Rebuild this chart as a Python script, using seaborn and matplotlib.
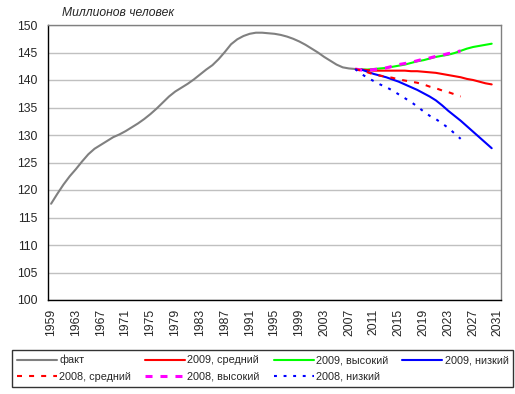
import matplotlib
matplotlib.use("Agg")
import matplotlib.pyplot as plt
import seaborn as sns

# факт
fact_years = list(range(1959, 2010))
fact = [117.5, 119.3, 121.0, 122.5, 123.8, 125.2, 126.5, 127.5, 128.2, 128.9,
        129.6, 130.1, 130.7, 131.4, 132.1, 132.9, 133.8, 134.8, 135.9, 137.0,
        137.9, 138.6, 139.3, 140.1, 141.0, 141.9, 142.7, 143.8, 145.1, 146.5,
        147.4, 148.0, 148.4, 148.6, 148.6, 148.5, 148.4, 148.2, 147.9, 147.5,
        147.0, 146.4, 145.7, 145.0, 144.2, 143.5, 142.8, 142.3, 142.1, 142.0,
        141.9]

# прогноз 2009
years_2009 = list(range(2009, 2031))
mid_2009 = [141.9, 141.8, 141.7, 141.7, 141.7, 141.7, 141.7, 141.7, 141.6, 141.6,
            141.5, 141.4, 141.3, 141.1, 140.9, 140.7, 140.5, 140.2, 140.0, 139.7,
            139.4, 139.2]
high_2009 = [141.9, 141.9, 142.0, 142.1, 142.2, 142.4, 142.6, 142.8, 143.1, 143.4,
             143.6, 143.9, 144.2, 144.4, 144.6, 144.9, 145.3, 145.7, 146.0, 146.2,
             146.4, 146.6]
low_2009 = [141.9, 141.5, 141.1, 140.8, 140.5, 140.1, 139.7, 139.2, 138.7, 138.2,
            137.6, 137.0, 136.3, 135.4, 134.4, 133.5, 132.6, 131.6, 130.6, 129.6,
            128.6, 127.6]

# прогноз 2008
years_2008 = list(range(2008, 2026))
mid_2008 = [142.0, 141.7, 141.4, 141.0, 140.8, 140.6, 140.4, 140.1, 139.9, 139.7,
            139.5, 139.2, 138.8, 138.5, 138.1, 137.8, 137.4, 137.0]
high_2008 = [142.0, 141.8, 141.8, 141.9, 142.0, 142.2, 142.5, 142.8, 143.0, 143.2,
             143.5, 143.8, 144.0, 144.3, 144.5, 144.8, 145.0, 145.3]
low_2008 = [142.0, 141.1, 140.4, 139.8, 139.2, 138.7, 138.1, 137.4, 136.7, 136.0,
            135.2, 134.3, 133.5, 132.9, 132.1, 131.3, 130.3, 129.3]

tick_years = list(range(1959, 2032, 4))
y_ticks = list(range(100, 151, 5))

sns.set_style("white")
plt.rcParams['font.family'] = ['Liberation Sans', 'DejaVu Sans']
FS = 8.7
LFS = 7.8

fig = plt.figure(figsize=(5.15, 3.94), dpi=100)
ax = fig.add_axes([48 / 515, 1 - 300 / 394, 453 / 515, 275 / 394])

series = [
    ("факт", fact_years, fact, "#808080", 1.5, "-"),
    ("2008, средний", years_2008, mid_2008, "#ff0000", 1.5, (0, (2.4, 3.4))),
    ("2009, средний", years_2009, mid_2009, "#ff0000", 1.5, "-"),
    ("2008, высокий", years_2008, high_2008, "#ff00ff", 2.2, (0, (2.3, 2.6))),
    ("2009, высокий", years_2009, high_2009, "#00ff00", 1.5, "-"),
    ("2008, низкий", years_2008, low_2008, "#0000ff", 1.5, (0, (1.4, 3.2))),
    ("2009, низкий", years_2009, low_2009, "#0000ff", 1.5, "-"),
]
# solid 2009 lines first, dashed 2008 on top
order = [0, 4, 2, 6, 3, 1, 5]
handles = {}
for i in order:
    name, xs, ys, col, lw, ls = series[i]
    sns.lineplot(x=xs, y=ys, ax=ax, color=col, linewidth=lw, linestyle=ls, label=name)
    handles[name] = ax.lines[-1]

ax.set_xlim(1958.5, 2031.5)
ax.set_ylim(100, 150)
ax.set_yticks(y_ticks)
ax.set_xticks(tick_years)
ax.set_xticklabels([str(y) for y in tick_years], rotation=90, fontsize=FS)
ax.set_yticklabels([str(v) for v in y_ticks], fontsize=FS)
ax.tick_params(axis='y', length=0, pad=7.5)
ax.tick_params(axis='x', length=0, pad=6.5)
ax.grid(axis='y', color='#c0c0c0', linewidth=1)
ax.set_axisbelow(True)
for s in ['left', 'bottom']:
    ax.spines[s].set_color('black')
    ax.spines[s].set_linewidth(1)
for s in ['top', 'right']:
    ax.spines[s].set_color('#808080')
    ax.spines[s].set_linewidth(1)
ax.set_xlabel("")
ax.set_ylabel("")
ax.get_legend().remove()

fig.text(62 / 515, 1 - 13 / 394, "Миллионов человек", style='italic',
         fontsize=FS, va='center', ha='left')

names = [s[0] for s in series]
leg = fig.legend([handles[n] for n in names], names, ncol=4,
                 loc='upper left', bbox_to_anchor=(12 / 515, 1 - 350 / 394),
                 fontsize=LFS, frameon=True, fancybox=False, edgecolor='black',
                 handlelength=3.7, handletextpad=0.2, columnspacing=1.3,
                 labelspacing=0.6, borderpad=0.45, borderaxespad=0)
leg.get_frame().set_linewidth(1)

fig.savefig("out.png", dpi=100, facecolor='white')
